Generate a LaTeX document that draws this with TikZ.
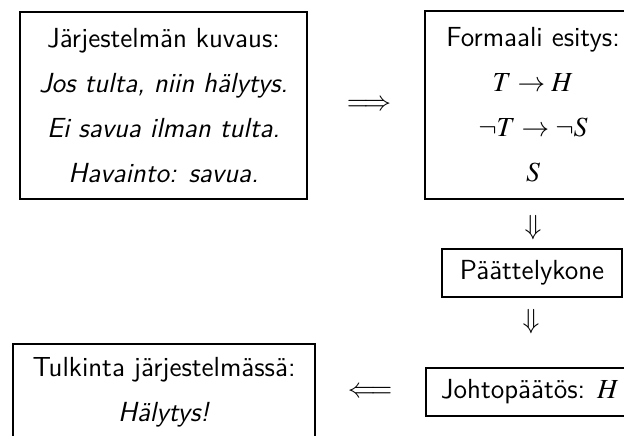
\documentclass[tikz,border=0pt]{standalone}
\usepackage{mathptmx}
\renewcommand{\familydefault}{\sfdefault}

\tikzset{ box/.style={draw, line width=1pt, align=center, inner sep=0pt},
          symb/.style={inner sep=0pt} }

\begin{document}
\begin{tikzpicture}[x=0.5pt, y=-0.5pt, font=\fontsize{13.8}{22.5}\selectfont]
        \clip (0,0) rectangle (624,435);

        \node[box, minimum width=143.5pt, minimum height=93.5pt] (kuvaus) at (163.5,105.5)
            {Järjestelmän kuvaus:\\ \textit{Jos tulta, niin hälytys.}\\
             \textit{Ei savua ilman tulta.}\\ \textit{Havainto: savua.}};
        \node[box, minimum width=108pt, minimum height=94pt] (esitys) at (533,105)
            {Formaali esitys:\\ $T \rightarrow H$\\ $\neg T \rightarrow \neg S$\\ $S$};
        \node[box, minimum width=90pt, minimum height=24pt] (kone) at (532,273) {Päättelykone};
        \node[box, minimum width=104pt, minimum height=24pt] (johto) at (530,392) {Johtopäätös: $H$};
        \node[box, minimum width=151pt, minimum height=48pt] (tulkinta) at (164,392)
            {Tulkinta järjestelmässä:\\ \textit{Hälytys!}};

        \node[symb] (oik) at (369,105) {$\Longrightarrow$};
        \node[symb] (alas1) at (533,228) {$\Downarrow$};
        \node[symb] (alas2) at (531,322) {$\Downarrow$};
        \node[symb] (vas) at (370,392) {$\Longleftarrow$};
    \end{tikzpicture}
\end{document}
